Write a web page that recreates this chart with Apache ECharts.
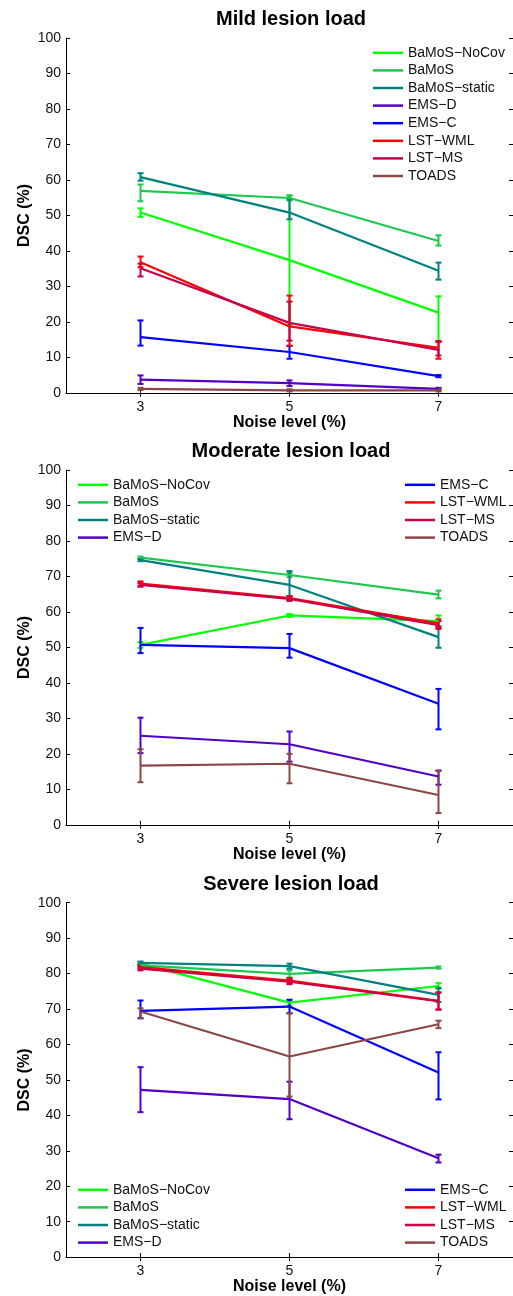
<!DOCTYPE html>
<html>
<head>
<meta charset="utf-8">
<script src="https://cdn.jsdelivr.net/npm/echarts@6/dist/echarts.min.js"></script>
<style>
  html, body { margin: 0; padding: 0; background: #fff; }
  #chart { width: 513px; height: 1296px; }
</style>
</head>
<body>
<div id="chart"></div>
<script>
// series names and colours
const names = ['BaMoS\u2212NoCov', 'BaMoS', 'BaMoS\u2212static', 'EMS\u2212D', 'EMS\u2212C', 'LST\u2212WML', 'LST\u2212MS', 'TOADS'];
const colors = ['#00ff00', '#1ec84e', '#008080', '#5000c8', '#0000ff', '#ff0000', '#c8004a', '#8c4646'];
const noise = [3, 5, 7];
const yTicks = [0, 100, 10];

// DSC (%): mean, lower and upper end of the error bar
const mildMean = [[50.8, 37.4, 22.6], [56.9, 54.9, 42.8], [60.8, 50.8, 34.4], [3.7, 2.7, 1.1], [15.7, 11.5, 4.7], [36.8, 18.7, 12.7], [35.1, 19.7, 12.1], [1.1, 0.7, 0.7]];
const mildLow = [[49.6, 19.2, 14.3], [54.0, 54.2, 41.5], [59.8, 48.9, 31.9], [2.5, 1.9, 0.8], [13.3, 9.6, 4.4], [35.4, 13.3, 9.6], [32.8, 14.7, 10.5], [0.8, 0.4, 0.4]];
const mildHigh = [[52.0, 55.6, 27.2], [58.7, 55.6, 44.4], [61.9, 54.5, 36.7], [4.9, 3.5, 1.4], [20.4, 13.2, 5.0], [38.4, 27.4, 14.3], [36.4, 25.7, 14.6], [1.4, 1.0, 1.0]];

const moderateMean = [[50.7, 59.0, 57.4], [75.3, 70.4, 64.9], [74.6, 67.6, 52.9], [25.1, 22.7, 13.6], [50.7, 49.8, 34.1], [68.0, 63.9, 56.8], [67.6, 63.7, 56.3], [16.7, 17.2, 8.4]];
const moderateLow = [[49.9, 58.6, 55.8], [75.0, 69.8, 63.8], [74.3, 63.8, 49.9], [20.2, 17.8, 11.3], [48.4, 47.1, 26.9], [67.4, 63.3, 55.7], [67.1, 63.1, 55.2], [12.0, 11.7, 3.3]];
const moderateHigh = [[51.5, 59.4, 59.0], [75.6, 71.0, 66.0], [74.9, 71.5, 55.9], [30.2, 26.3, 15.3], [55.5, 53.8, 38.3], [68.6, 64.5, 57.9], [68.1, 64.3, 57.4], [21.3, 20.0, 15.2]];

const severeMean = [[82.8, 71.8, 76.5], [82.3, 79.9, 81.7], [83.0, 82.1, 74.0], [47.2, 44.6, 27.9], [69.5, 70.7, 52.1], [81.8, 78.0, 72.3], [81.4, 77.7, 72.2], [69.3, 56.6, 65.7]];
const severeLow = [[82.4, 71.0, 75.7], [81.9, 78.9, 81.4], [82.6, 81.4, 72.0], [40.9, 38.9, 26.7], [67.4, 68.8, 44.5], [81.3, 77.3, 69.9], [80.9, 77.0, 69.8], [67.4, 45.3, 64.6]];
const severeHigh = [[83.2, 72.6, 77.3], [82.7, 80.9, 82.0], [83.4, 82.8, 76.0], [53.6, 49.5, 28.9], [72.4, 72.6, 57.8], [82.3, 78.7, 74.7], [81.9, 78.4, 74.6], [70.2, 68.8, 66.7]];

const panels = [
  { title: 'Mild lesion load', top: 38, titleTop: 9, mean: mildMean, low: mildLow, high: mildHigh },
  { title: 'Moderate lesion load', top: 470, titleTop: 441, mean: moderateMean, low: moderateLow, high: moderateHigh },
  { title: 'Severe lesion load', top: 902.7, titleTop: 874, mean: severeMean, low: severeLow, high: severeHigh }
];

const FONT = '"Liberation Sans", Arial, sans-serif';
const plotH = 354.8;

function errRender (color) {
  return function (params, api) {
    let x = api.value(0);
    let a = api.coord([x, api.value(1)]);
    let b = api.coord([x, api.value(2)]);
    let style = { stroke: color, lineWidth: 2 };
    let w = 3;
    return {
      type: 'group',
      children: [
        { type: 'line', shape: { x1: a[0], y1: a[1], x2: b[0], y2: b[1] }, style: style },
        { type: 'line', shape: { x1: a[0] - w, y1: a[1], x2: a[0] + w, y2: a[1] }, style: style },
        { type: 'line', shape: { x1: b[0] - w, y1: b[1], x2: b[0] + w, y2: b[1] }, style: style }
      ]
    };
  };
}

let grid = [];
let xAxis = [];
let yAxis = [];
let series = [];
let title = [];

panels.forEach(function (p, k) {
  grid.push({ left: 66, top: p.top, width: 450, height: plotH });
  title.push({
    text: p.title,
    left: 291,
    textAlign: 'center',
    top: p.titleTop,
    padding: 0,
    textStyle: { fontFamily: FONT, fontSize: 20, fontWeight: 'bold', color: '#000' }
  });
  let axisLine = { show: true, lineStyle: { color: '#000', width: 1 } };
  xAxis.push({
    gridIndex: k, type: 'value', min: 2, max: 8, position: 'bottom',
    axisLine: axisLine,
    axisTick: { show: true, inside: true, length: 4, customValues: noise, lineStyle: { color: '#000' } },
    axisLabel: { customValues: noise, fontFamily: FONT, fontSize: 14, color: '#111', margin: 7 },
    splitLine: { show: false },
    name: 'Noise level (%)', nameLocation: 'middle', nameGap: 21,
    nameTextStyle: { fontFamily: FONT, fontSize: 16, fontWeight: 'bold', color: '#000' }
  });
  xAxis.push({
    gridIndex: k, type: 'value', min: 2, max: 8, position: 'top',
    axisLine: axisLine,
    axisTick: { show: true, inside: true, length: 4, customValues: noise, lineStyle: { color: '#000' } },
    axisLabel: { show: false },
    splitLine: { show: false }
  });
  yAxis.push({
    gridIndex: k, type: 'value', min: yTicks[0], max: yTicks[1], interval: yTicks[2], position: 'left',
    axisLine: axisLine,
    axisTick: { show: true, inside: true, length: 4, lineStyle: { color: '#000' } },
    axisLabel: { fontFamily: FONT, fontSize: 14, color: '#111', margin: 5 },
    splitLine: { show: false },
    name: 'DSC (%)', nameLocation: 'middle', nameGap: 33, nameMoveOverlap: false,
    nameTextStyle: { fontFamily: FONT, fontSize: 16, fontWeight: 'bold', color: '#000' }
  });
  yAxis.push({
    gridIndex: k, type: 'value', min: yTicks[0], max: yTicks[1], interval: yTicks[2], position: 'right',
    axisLine: axisLine,
    axisTick: { show: true, inside: true, length: 4, lineStyle: { color: '#000' } },
    axisLabel: { show: false },
    splitLine: { show: false }
  });

  names.forEach(function (name, i) {
    series.push({
      name: name,
      type: 'line',
      xAxisIndex: k * 2,
      yAxisIndex: k * 2,
      symbol: 'none',
      color: colors[i],
      lineStyle: { color: colors[i], width: 2.2 },
      animation: false,
      data: noise.map(function (x, j) { return [x, p.mean[i][j]]; })
    });
    series.push({
      name: 'err' + k + '_' + i,
      type: 'custom',
      xAxisIndex: k * 2,
      yAxisIndex: k * 2,
      animation: false,
      renderItem: errRender(colors[i]),
      encode: { x: 0, y: [1, 2] },
      data: noise.map(function (x, j) { return [x, p.low[i][j], p.high[i][j]]; })
    });
  });
});

const legendText = { fontFamily: FONT, fontSize: 14, color: '#111', lineHeight: 17.6 };
function makeLegend (data, left, top) {
  return {
    data: data.map(function (n) { return { name: n, icon: 'rect' }; }),
    left: left, top: top, orient: 'vertical', padding: 0,
    itemWidth: 30, itemHeight: 2.5, itemGap: 0, selectedMode: false,
    textStyle: legendText
  };
}

const legend = [
  makeLegend(names, 373, 44),
  makeLegend(names.slice(0, 4), 78, 476),
  makeLegend(names.slice(4), 405, 476),
  makeLegend(names.slice(0, 4), 78, 1181),
  makeLegend(names.slice(4), 405, 1181)
];

const chart = echarts.init(document.getElementById('chart'));
chart.setOption({
  animation: false,
  backgroundColor: '#fff',
  title: title,
  legend: legend,
  grid: grid,
  xAxis: xAxis,
  yAxis: yAxis,
  series: series
});
</script>
</body>
</html>
